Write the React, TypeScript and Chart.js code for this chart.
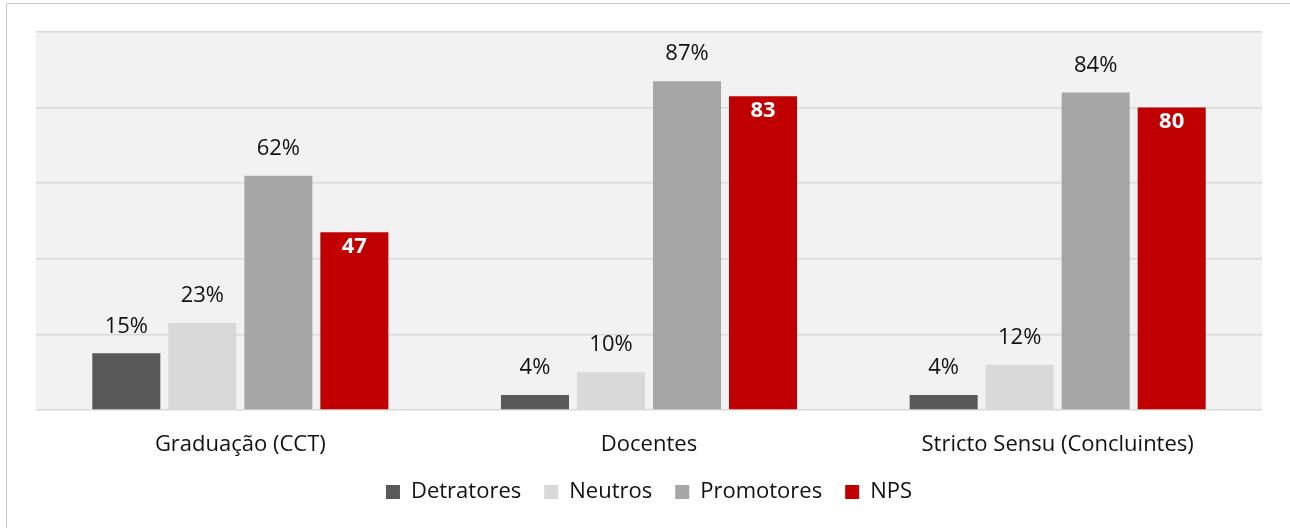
import React, { useEffect, useRef } from "react";
import { Chart, registerables } from "chart.js";

Chart.register(...registerables);

const categories = ["Graduação (CCT)", "Docentes", "Stricto Sensu (Concluintes)"];
const seriesNames = ["Detratores", "Neutros", "Promotores", "NPS"];
const detratores = [15, 4, 4];
const neutros = [23, 10, 12];
const promotores = [62, 87, 84];
const nps = [47, 83, 80];
const yMin = 0;
const yMax = 100;
const yStep = 20;

const colors = ["#595959", "#d9d9d9", "#a6a6a6", "#c00000"];
const FONT = "'Open Sans', 'Noto Sans', sans-serif";

const bgPlugin = {
  id: "bgPlugin",
  beforeDraw(chart: any) {
    const { ctx, chartArea, width } = chart;
    ctx.save();
    ctx.fillStyle = "#ffffff";
    ctx.fillRect(0, 0, chart.width, chart.height);
    ctx.fillStyle = "#f2f2f2";
    ctx.fillRect(chartArea.left, chartArea.top, chartArea.right - chartArea.left, chartArea.bottom - chartArea.top);
    ctx.strokeStyle = "#c8c8c8";
    ctx.lineWidth = 1;
    ctx.beginPath();
    ctx.moveTo(6.5, chart.height);
    ctx.lineTo(6.5, 3.5);
    ctx.lineTo(width, 3.5);
    ctx.stroke();
    ctx.restore();
  },
};

const labelPlugin = {
  id: "labelPlugin",
  afterDatasetsDraw(chart: any) {
    const { ctx } = chart;
    ctx.save();
    chart.data.datasets.forEach((ds: any, di: number) => {
      const meta = chart.getDatasetMeta(di);
      meta.data.forEach((bar: any, i: number) => {
        const v = ds.data[i];
        ctx.textAlign = "center";
        ctx.textBaseline = "middle";
        if (di === 3) {
          ctx.font = `bold 22px ${FONT}`;
          ctx.fillStyle = "#ffffff";
          ctx.fillText(String(v), bar.x, bar.y + 14);
        } else {
          ctx.font = `22px ${FONT}`;
          ctx.fillStyle = "#111111";
          ctx.fillText(v + "%", bar.x, bar.y - 27);
        }
      });
    });
    ctx.restore();
  },
};

export default function App() {
  const ref = useRef<HTMLCanvasElement | null>(null);
  useEffect(() => {
    if (!ref.current) return;
    const data = [detratores, neutros, promotores, nps];
    const chart = new Chart(ref.current, {
      type: "bar",
      data: {
        labels: categories,
        datasets: seriesNames.map((name, i) => ({
          label: name,
          data: data[i],
          backgroundColor: colors[i],
          borderWidth: 0,
          categoryPercentage: 0.744,
          barPercentage: 0.895,
        })),
      },
      options: {
        animation: false,
        responsive: false,
        maintainAspectRatio: false,
        layout: { padding: { left: 36, right: 28, top: 32, bottom: 15 } },
        plugins: {
          legend: {
            position: "bottom",
            labels: {
              boxWidth: 14,
              boxHeight: 14,
              padding: 23,
              color: "#111111",
              font: { family: FONT, size: 22 },
            },
          },
          tooltip: { enabled: false },
        },
        scales: {
          x: {
            grid: { display: false },
            border: { display: false },
            ticks: { color: "#111111", font: { family: FONT, size: 22 }, padding: 14 },
            afterFit(scale: any) {
              scale.height = 48;
            },
          },
          y: {
            min: yMin,
            max: yMax,
            ticks: { stepSize: yStep, display: false },
            grid: { color: "#d9d9d9", lineWidth: 1.5, drawTicks: false },
            border: { display: false },
            afterFit(scale: any) {
              scale.width = 0;
            },
          },
        },
      },
      plugins: [bgPlugin, labelPlugin],
    });
    return () => chart.destroy();
  }, []);
  return (
    <div style={{ position: "fixed", left: 0, top: 0, width: 1290, height: 528, background: "#fff" }}>
      <canvas ref={ref} width={1290} height={528} style={{ width: 1290, height: 528 }} />
    </div>
  );
}
